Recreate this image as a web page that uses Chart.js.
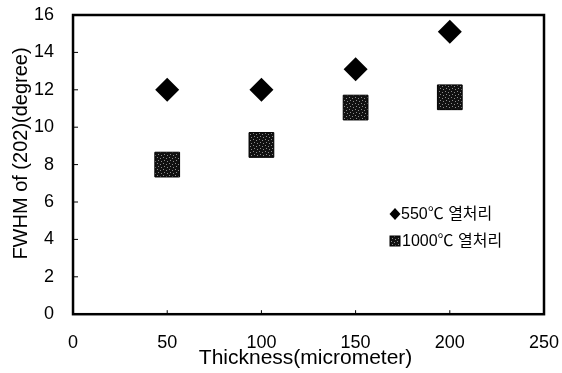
<!DOCTYPE html>
<html>
<head>
<meta charset="utf-8">
<script src="https://cdn.jsdelivr.net/npm/chart.js@4.4.0/dist/chart.umd.min.js"></script>
<style>
html,body{margin:0;padding:0;background:#fff;}
#wrap{width:562px;height:373px;}
</style>
</head>
<body>
<div id="wrap"><canvas id="c" width="562" height="373"></canvas></div>
<script>
const thickness = [50, 100, 150, 200];
const fwhm550 = [12.0, 12.0, 13.1, 15.1];
const fwhm1000 = [8.0, 9.05, 11.05, 11.6];
const seriesLabels = ['550℃ 열처리', '1000℃ 열처리'];
const xTicks = [0, 50, 100, 150, 200, 250];
const yTicks = [0, 2, 4, 6, 8, 10, 12, 14, 16];

function makePattern() {
  const p = document.createElement('canvas');
  p.width = 6; p.height = 6;
  const g = p.getContext('2d');
  g.fillStyle = '#111';
  g.fillRect(0, 0, 6, 6);
  g.fillStyle = '#8a8a8a';
  g.fillRect(1, 1, 1, 1);
  g.fillRect(4, 2, 1, 1);
  g.fillRect(2, 4, 1, 1);
  g.fillRect(5, 5, 1, 1);
  return g.createPattern(p, 'repeat');
}
const ctx0 = document.getElementById('c').getContext('2d');
const sqFill = makePattern();
const FONT = '"Liberation Sans", Arial';

const frame = {
  id: 'frame',
  afterDraw(chart) {
    const {ctx, chartArea: a, scales} = chart;
    ctx.save();
    ctx.strokeStyle = '#000';
    ctx.lineWidth = 2.5;
    ctx.strokeRect(a.left, a.top, a.right - a.left, a.bottom - a.top);
    ctx.lineWidth = 1;
    yTicks.forEach(v => {
      const y = scales.y.getPixelForValue(v);
      ctx.beginPath(); ctx.moveTo(a.left, y); ctx.lineTo(a.left + 5, y); ctx.stroke();
    });
    xTicks.forEach(v => {
      const x = scales.x.getPixelForValue(v);
      ctx.beginPath(); ctx.moveTo(x, a.bottom); ctx.lineTo(x, a.bottom - 4); ctx.stroke();
    });
    // legend
    const lx = 395, ly = 214;
    ctx.font = '16px "Liberation Sans", Arial, "Noto Sans CJK KR"';
    ctx.textBaseline = 'middle';
    ctx.fillStyle = '#000';
    ctx.beginPath();
    ctx.moveTo(lx, ly - 6); ctx.lineTo(lx + 5.5, ly); ctx.lineTo(lx, ly + 6); ctx.lineTo(lx - 5.5, ly); ctx.closePath();
    ctx.fill();
    ctx.fillText(seriesLabels[0], lx + 6, ly + 1);
    ctx.fillStyle = sqFill;
    ctx.fillRect(lx - 5, ly + 22, 10, 10);
    ctx.strokeStyle = '#000';
    ctx.strokeRect(lx - 5, ly + 22, 10, 10);
    ctx.fillStyle = '#000';
    ctx.fillText(seriesLabels[1], lx + 7, ly + 28);
    ctx.restore();
  }
};

new Chart(ctx0, {
  type: 'scatter',
  data: {
    datasets: [
      {
        label: seriesLabels[0],
        data: thickness.map((x, i) => ({x, y: fwhm550[i]})),
        pointStyle: 'rectRot',
        pointRadius: 12,
        pointHoverRadius: 12,
        backgroundColor: '#000',
        borderColor: '#000',
        borderWidth: 0
      },
      {
        label: seriesLabels[1],
        data: thickness.map((x, i) => ({x, y: fwhm1000[i]})),
        pointStyle: 'rect',
        pointRadius: 17.5,
        pointHoverRadius: 17.5,
        backgroundColor: sqFill,
        borderColor: '#000',
        borderWidth: 1
      }
    ]
  },
  options: {
    responsive: false,
    animation: false,
    events: [],
    layout: {autoPadding: false, padding: {left: 9, right: 18, top: 15, bottom: 2}},
    plugins: {legend: {display: false}, tooltip: {enabled: false}},
    scales: {
      x: {
        type: 'linear', min: 0, max: 250,
        afterBuildTicks: s => { s.ticks = xTicks.map(v => ({value: v})); },
        afterFit: s => { s.paddingLeft = 0; s.paddingRight = 0; },
        grid: {display: false, drawTicks: false},
        border: {display: false},
        ticks: {color: '#000', padding: 18, font: {family: FONT, size: 18}},
        title: {display: true, text: 'Thickness(micrometer) ', color: '#000', padding: {top: -26, bottom: 0},
                font: {family: FONT, size: 21}}
      },
      y: {
        type: 'linear', min: 0, max: 16,
        afterBuildTicks: s => { s.ticks = yTicks.map(v => ({value: v})); },
        afterFit: s => { s.paddingTop = 0; s.paddingBottom = 0; },
        grid: {display: false, drawTicks: false},
        border: {display: false},
        ticks: {color: '#000', padding: 19, font: {family: FONT, size: 18}},
        title: {display: true, text: '    FWHM of (202)(degree)', color: '#000', padding: {top: 0, bottom: -18},
                font: {family: FONT, size: 20}}
      }
    }
  },
  plugins: [frame]
});
</script>
</body>
</html>
